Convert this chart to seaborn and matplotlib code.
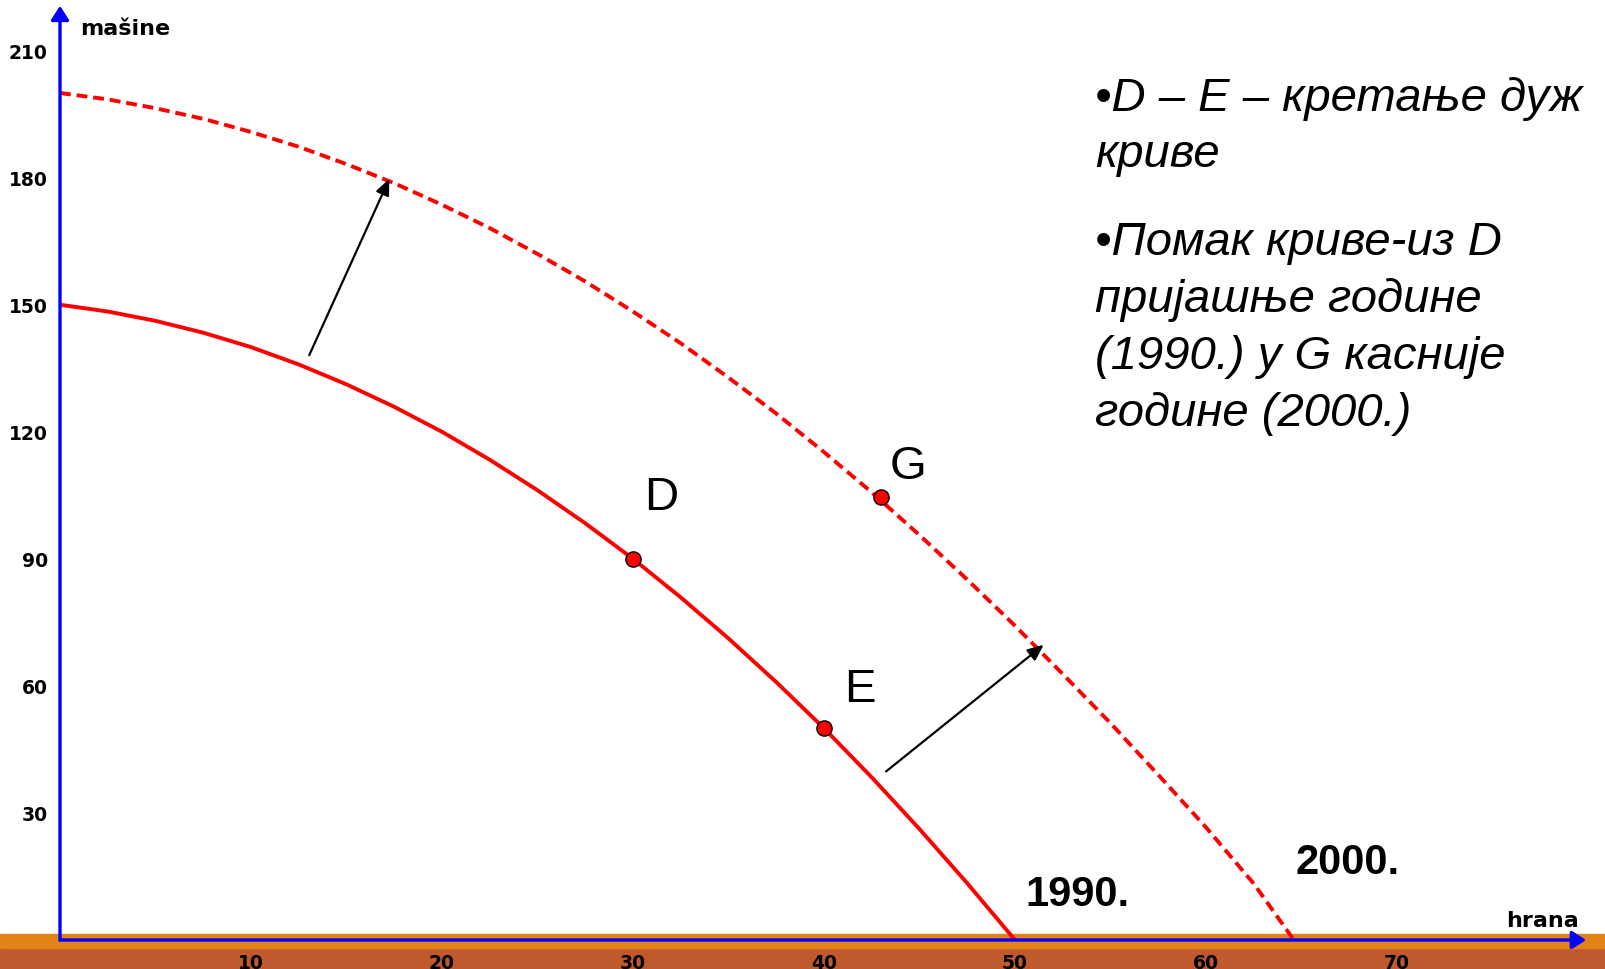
import numpy as np
import pandas as pd
import seaborn as sns
import matplotlib.pyplot as plt
from matplotlib.patches import Rectangle

sns.set_theme(style="white")
plt.rcParams['font.family'] = ['Liberation Sans', 'DejaVu Sans']
plt.rcParams['text.color'] = 'black'

# ---- podaci (ocitano sa slike) ----
hrana_1990 = [0, 2.5, 5, 7.5, 10, 12.5, 15, 17.5, 20, 22.5, 25, 27.5, 30,
              32.5, 35, 37.5, 40, 42.5, 45, 47.5, 50]
masine_1990 = [150, 148.4, 146.2, 143.4, 140, 135.9, 131.2, 125.9, 120, 113.4, 106.2,
               98.4, 90, 80.9, 71.2, 60.9, 50, 38.4, 26.2, 13.4, 0]

hrana_2000 = [0, 2.5, 5, 7.5, 10, 12.5, 15, 17.5, 20, 22.5, 25, 27.5, 30, 32.5,
              35, 37.5, 40, 42.5, 45, 47.5, 50, 52.5, 55, 57.5, 60, 62.5, 64.6]
masine_2000 = [200, 198.5, 196.4, 193.9, 190.8, 187.3, 183.2, 178.7, 173.6, 168.1,
               162.0, 155.5, 148.4, 140.9, 132.8, 124.3, 115.2, 105.7, 95.6, 85.1,
               74.2, 62.8, 51.2, 39.0, 26.6, 13.3, 0]

tacke = ['D', 'E', 'G']
tacke_x = [30, 40, 43]
tacke_y = [90, 50, 104.5]

x_ticks = [10, 20, 30, 40, 50, 60, 70]
y_ticks = [30, 60, 90, 120, 150, 180, 210]

tekst_1 = ["•D – E – кретање дуж", "криве"]
tekst_2 = ["•Помак криве-из D", "пријашње године", "(1990.) у G касније", "године (2000.)"]

W, H = 1605, 970
fig = plt.figure(figsize=(W / 100, H / 100), dpi=100)
fig.patch.set_facecolor('white')

# trake na dnu
fig.add_artist(Rectangle((0, 0), 1, 21 / H, transform=fig.transFigure,
                         color='#BE5A2E', zorder=-2))
fig.add_artist(Rectangle((0, 21 / H), 1, 14 / H, transform=fig.transFigure,
                         color='#E38216', zorder=-2))

ax = fig.add_axes([60 / W, 29 / H, 1540 / W, 941 / H])
ax.set_facecolor('none')
ax.set_xlim(0, 1540 / 19.1)
ax.set_ylim(0, 941 / 4.235)
for s in ax.spines.values():
    s.set_visible(False)

df90 = pd.DataFrame({'hrana': hrana_1990, 'masine': masine_1990})
df00 = pd.DataFrame({'hrana': hrana_2000, 'masine': masine_2000})
sns.lineplot(data=df90, x='hrana', y='masine', ax=ax, color='#FF0000', lw=2.8, zorder=3)
sns.lineplot(data=df00, x='hrana', y='masine', ax=ax, color='#FF0000', lw=2.8,
             linestyle=(0, (2.8, 1.5)), zorder=3)

pts = pd.DataFrame({'t': tacke, 'x': tacke_x, 'y': tacke_y})
sns.scatterplot(data=pts, x='x', y='y', ax=ax, color='#FF0000', s=120,
                edgecolor='black', linewidth=1, zorder=5)

# ose sa strelicama
ax.annotate('', xy=(0, 220.6), xytext=(0, 0), annotation_clip=False,
            arrowprops=dict(arrowstyle='-|>,head_length=0.7,head_width=0.45',
                            color='#0000FF', lw=2.4, shrinkA=0, shrinkB=0))
ax.annotate('', xy=(79.9, 0), xytext=(0, 0), annotation_clip=False,
            arrowprops=dict(arrowstyle='-|>,head_length=0.7,head_width=0.45',
                            color='#0000FF', lw=2.4, shrinkA=0, shrinkB=0))

ax.set_xticks(x_ticks)
ax.set_yticks(y_ticks)
ax.tick_params(axis='both', direction='inout', length=11.5, width=1.2,
               color='#3333FF', labelsize=13.5, labelcolor='black')
ax.tick_params(axis='y', pad=3)
ax.tick_params(axis='x', pad=3.5)
for lab in ax.get_xticklabels() + ax.get_yticklabels():
    lab.set_fontweight('bold')
    lab.set_fontfamily('DejaVu Sans')
ax.set_xlabel('')
ax.set_ylabel('')

ax.text(1.05, 213.9, 'mašine', fontsize=16, fontweight='bold', family='DejaVu Sans',
        ha='left', va='baseline')
ax.text(79.5, 3.4, 'hrana', fontsize=16, fontweight='bold', family='DejaVu Sans',
        ha='right', va='baseline')

# strelice pomaka
for (x0, y0, x1, y1) in [(13.05, 138.1, 17.24, 179.7), (43.25, 39.8, 51.5, 69.7)]:
    ax.annotate('', xy=(x1, y1), xytext=(x0, y0),
                arrowprops=dict(arrowstyle='-|>,head_length=0.8,head_width=0.35',
                                color='black', lw=1.6, shrinkA=0, shrinkB=0), zorder=4)

# oznake tacaka
ax.text(31.47, 101.8, 'D', fontsize=34, ha='center', va='baseline')
ax.text(41.9, 56.4, 'E', fontsize=34, ha='center', va='baseline')
ax.text(44.4, 109.0, 'G', fontsize=34, ha='center', va='baseline')
ax.text(53.25, 8.3, '1990.', fontsize=30, fontweight='bold', ha='center', va='baseline')
ax.text(67.4, 15.8, '2000.', fontsize=30, fontweight='bold', ha='center', va='baseline')

# tekst desno
for line, yb in zip(tekst_1 + tekst_2, [111, 167, 255, 312, 369, 426]):
    fig.text(1095 / W, 1 - yb / H, line, fontsize=34, style='italic',
             ha='left', va='baseline')

fig.savefig('out.png', dpi=100)
